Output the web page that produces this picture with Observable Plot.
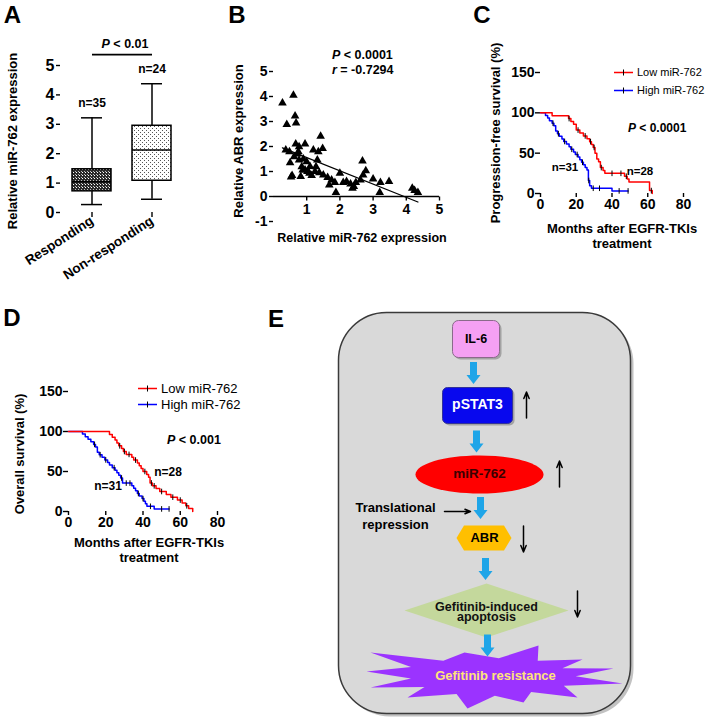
<!DOCTYPE html>
<html>
<head>
<meta charset="utf-8">
<script src="https://cdn.jsdelivr.net/npm/d3@7"></script>
<script src="https://cdn.jsdelivr.net/npm/@observablehq/plot@0.6"></script>
<style>
  body { margin: 0; background: #fff; }
  #root { position: relative; width: 709px; height: 722px; overflow: hidden; background: #fff;
          font-family: "Liberation Sans", Arial, Helvetica, sans-serif; color: #000; }
</style>
</head>
<body>
<svg width="0" height="0" style="position:absolute">
  <defs>
    <pattern id="patDark" patternUnits="userSpaceOnUse" width="3" height="3">
      <rect width="3" height="3" fill="#2a2a2a"/>
      <rect x="1" y="1" width="1" height="1" fill="#ffffff"/>
      <rect x="0" y="0" width="1" height="1" fill="#bbbbbb"/>
    </pattern>
    <pattern id="patLight" patternUnits="userSpaceOnUse" width="4" height="4">
      <rect width="4" height="4" fill="#ffffff"/>
      <rect x="0" y="0" width="1" height="1" fill="#555"/>
      <rect x="2" y="2" width="1" height="1" fill="#555"/>
    </pattern>
  </defs>
</svg>
<div id="root"></div>
<script>
// ---------------- DATA ----------------
// Panel A: box plot summaries
const groups = ["Responding", "Non-responding"];
const boxMin = [0.27, 0.45];
const boxQ1 = [0.72, 1.08];
const boxMedian = [1.05, 2.13];
const boxQ3 = [1.47, 2.95];
const boxMax = [3.22, 4.38];
const groupN = [35, 24];
const yTicksA = [0, 1, 2, 3, 4, 5];

// Panel B: scatter (miR-762 vs ABR)
const mirValues = [0.27,0.6,0.4,0.65,0.68,0.37,0.48,0.5,0.56,0.53,0.67,0.77,0.75,0.77,0.85,0.88,0.95,1.0,0.95,1.02,
  1.15,1.2,1.35,1.42,1.48,1.32,1.28,1.25,1.5,1.63,1.68,1.75,1.85,1.88,2.0,2.2,2.32,2.42,2.48,2.62,
  2.68,2.78,2.7,3.0,3.22,3.2,3.48,4.18,4.25,4.35,0.62,0.82,1.08,2.1,2.38,0.9,1.1,0.72,1.38];
const abrValues = [3.74,4.05,2.88,3.22,2.94,1.86,1.79,1.35,0.84,0.78,2.1,1.99,1.79,1.46,1.19,1.06,2.1,1.39,1.06,1.0,
  0.84,1.86,1.79,2.41,1.92,1.46,1.19,1.0,0.86,0.76,0.46,0.66,0.56,0.16,0.93,0.6,0.5,0.4,0.56,0.66,
  1.42,1.03,0.86,0.7,0.56,0.16,0.6,0.33,0.24,0.16,1.59,0.8,0.93,0.56,0.33,1.5,1.2,1.7,0.95];
const yTicksB = [-1, 0, 1, 2, 3, 4, 5];
const xTicksB = [1, 2, 3, 4, 5];

// Panel C: progression-free survival (Kaplan-Meier steps)
const pfsLowT = [0, 6.5, 15.7, 17, 18.5, 20, 22, 24, 26, 27.5, 28.5, 29.5, 30.5, 31.5, 32.5, 33.5, 35, 36, 47, 48.5, 49.5, 61, 62.5];
const pfsLowS = [100, 96.4, 92.9, 89.3, 85.7, 78.6, 75, 71.4, 67.9, 64.3, 60.7, 57.1, 50, 42.9, 39.3, 32.1, 28.6, 25, 21.4, 17.9, 14.3, 3.6, 0];
const pfsHighT = [0, 2.8, 4, 5, 6.5, 7.5, 8.5, 9.5, 10.5, 12, 13, 14.5, 16, 17, 18.5, 19.5, 21, 22, 23, 24, 25, 26, 26.8, 27.5, 28.5, 40, 49];
const pfsHighS = [100, 96.8, 93.5, 90.3, 87.1, 83.9, 77.4, 74.2, 71, 67.7, 64.5, 61.3, 58.1, 54.8, 51.6, 48.4, 45.2, 41.9, 38.7, 35.5, 32.3, 29, 16.1, 9.7, 6.5, 3.2, 3.2];
const pfsLowCensor = [16, 21, 25, 28, 30, 34, 40, 45, 48, 62];
const pfsHighCensor = [7, 10, 13.5, 17.5, 20.5, 23.5, 27, 29.5, 33, 44, 49];

// Panel D: overall survival
const osLowT = [0, 22, 23.5, 25, 26, 27, 28.5, 29.5, 31, 34, 35, 37, 38, 39, 40, 42, 43, 43.8, 45, 47, 49, 52.5, 55, 58.5, 61, 63, 64.5, 66.7];
const osLowS = [100, 96.4, 92.9, 89.3, 85.7, 82.1, 78.6, 75, 71.4, 67.9, 64.3, 60.7, 57.1, 53.6, 50, 46.4, 42.9, 35.7, 32.1, 28.6, 25, 21.4, 17.9, 14.3, 10.7, 7.1, 3.6, 0];
const osHighT = [0, 7.5, 9, 10.5, 12, 13.5, 14.5, 15.5, 16.5, 18, 19.5, 21, 22, 23.5, 25, 26, 27, 28, 29, 34, 35, 36, 37, 38, 39.5, 40.5, 41.3, 42.1, 46, 54];
const osHighS = [100, 96.8, 93.5, 90.3, 87.1, 83.9, 80.6, 74.2, 71, 67.7, 64.5, 61.3, 58.1, 54.8, 51.6, 48.4, 45.2, 41.9, 35.5, 32.3, 29, 25.8, 22.6, 19.4, 16.1, 12.9, 9.7, 6.5, 3.2, 3.2];
const osLowCensor = [27.5, 30, 32.5, 36, 41, 44.5, 46, 50, 56, 60, 63.5];
const osHighCensor = [14, 17, 20, 24.5, 28.5, 31, 33, 37.5, 40, 44, 50, 54];
const survTicksY = [0, 50, 100, 150];
const monthTicks = [0, 20, 40, 60, 80];
const seriesNames = ["Low miR-762", "High miR-762"];

// Panel E: pathway diagram
const flowNodes = ["IL-6", "pSTAT3", "miR-762", "ABR", "Gefitinib-induced\napoptosis", "Gefitinib resistance"];
const flowChange = ["", "up", "up", "down", "down", ""];
const flowNote = "Translational\nrepression";

// ---------------- LAYOUT / STYLE ----------------
const FONT = '"Liberation Sans", Arial, Helvetica, sans-serif';
const baseStyle = {fontFamily: FONT, fontWeight: "bold", fontSize: "13px", color: "#000", background: "none", overflow: "visible"};
const BOX_FILL = {"Responding": "url(#patDark)", "Non-responding": "url(#patLight)"};
const RED = "#ff0000", BLUE = "#0000ff";
const fmt = d => String(d);

const root = document.getElementById("root");
function put(el, left, top, w, h) {
  const d = document.createElement("div");
  d.style.cssText = `position:absolute;left:${left}px;top:${top}px;width:${w}px;height:${h}px;`;
  d.appendChild(el);
  root.appendChild(d);
}
function label(html, x, y, {size = 12, weight = "bold", align = "center", rotate = false, color = "#000"} = {}) {
  const d = document.createElement("div");
  d.innerHTML = html;
  let tr = align === "center" ? "translate(-50%,-50%)" : align === "start" ? "translate(0,-50%)" : "translate(-100%,-50%)";
  if (rotate) tr += " rotate(-90deg)";
  d.style.cssText = `position:absolute;left:${x}px;top:${y}px;transform:${tr};font-size:${size}px;font-weight:${weight};color:${color};white-space:nowrap;line-height:1;font-family:${FONT};`;
  root.appendChild(d);
}
function legendItem(x, y, color, text, size) {
  const d = document.createElement("div");
  d.style.cssText = `position:absolute;left:${x}px;top:${y}px;transform:translate(0,-50%);display:flex;align-items:center;font-family:${FONT};font-size:${size}px;white-space:nowrap;line-height:1;`;
  d.innerHTML = `<svg width="19" height="8" style="margin-right:4px"><line x1="0" y1="4" x2="19" y2="4" stroke="${color}" stroke-width="1.6"/><line x1="9.5" y1="1" x2="9.5" y2="7" stroke="#000" stroke-width="1"/></svg><span>${text}</span>`;
  root.appendChild(d);
}

// custom symbols
const tickDown = {draw(c) { c.moveTo(0, 0); c.lineTo(0, 4); }};
const censorTick = {draw(c) { c.moveTo(0, -2.8); c.lineTo(0, 2.8); }};
function roundRectSym(w, h, r) {
  return {draw(c) {
    const x0 = -w / 2, y0 = -h / 2, x1 = w / 2, y1 = h / 2;
    c.moveTo(x0 + r, y0); c.lineTo(x1 - r, y0); c.arcTo(x1, y0, x1, y0 + r, r);
    c.lineTo(x1, y1 - r); c.arcTo(x1, y1, x1 - r, y1, r);
    c.lineTo(x0 + r, y1); c.arcTo(x0, y1, x0, y1 - r, r);
    c.lineTo(x0, y0 + r); c.arcTo(x0, y0, x0 + r, y0, r); c.closePath();
  }};
}
function ellipseSym(rx, ry) {
  const k = 0.5523;
  return {draw(c) {
    c.moveTo(rx, 0);
    c.bezierCurveTo(rx, ry * k, rx * k, ry, 0, ry);
    c.bezierCurveTo(-rx * k, ry, -rx, ry * k, -rx, 0);
    c.bezierCurveTo(-rx, -ry * k, -rx * k, -ry, 0, -ry);
    c.bezierCurveTo(rx * k, -ry, rx, -ry * k, rx, 0);
    c.closePath();
  }};
}
function polySym(pts) {
  return {draw(c) { c.moveTo(pts[0][0], pts[0][1]); for (let i = 1; i < pts.length; i++) c.lineTo(pts[i][0], pts[i][1]); c.closePath(); }};
}
function starSym(spikes, inner) {
  const s = spikes.slice().sort((a, b) => Math.atan2(a[1], a[0]) - Math.atan2(b[1], b[0]));
  const pts = [];
  for (let i = 0; i < s.length; i++) {
    const a = s[i], b = s[(i + 1) % s.length];
    pts.push(a);
    pts.push([(a[0] + b[0]) / 2 * inner, (a[1] + b[1]) / 2 * inner]);
  }
  return polySym(pts);
}
const blockArrow = polySym([[-3.5, -11], [3.5, -11], [3.5, 2], [7, 2], [0, 11], [-7, 2], [-3.5, 2]]);

// ---------------- PANEL A ----------------
const boxRows = groups.map((g, i) => ({group: g, min: boxMin[i], q1: boxQ1[i], median: boxMedian[i], q3: boxQ3[i], max: boxMax[i], n: groupN[i]}));
const plotA = Plot.plot({
  width: 230, height: 280, marginLeft: 60, marginRight: 48, marginTop: 65, marginBottom: 68,
  style: {...baseStyle, fontSize: "15px"},
  x: {type: "band", domain: groups, paddingInner: 0.35, paddingOuter: 0.19, axis: null},
  y: {domain: [0, 5], axis: null},
  color: {type: "identity"},
  marks: [
    Plot.axisY({ticks: yTicksA, tickFormat: fmt, tickSize: 4, tickPadding: 2, line: true, label: null, fontSize: 16, strokeWidth: 1.4}),
    Plot.axisX({tickRotate: -33, tickSize: 5, tickPadding: 2, line: true, label: null, fontSize: 13.5, strokeWidth: 1.4}),
    Plot.ruleX(boxRows, {x: "group", y1: "min", y2: "q1", strokeWidth: 1.5}),
    Plot.ruleX(boxRows, {x: "group", y1: "q3", y2: "max", strokeWidth: 1.5}),
    Plot.tickY(boxRows, {x: "group", y: "min", insetLeft: 9, insetRight: 9, strokeWidth: 1.5}),
    Plot.tickY(boxRows, {x: "group", y: "max", insetLeft: 9, insetRight: 9, strokeWidth: 1.5}),
    Plot.barY(boxRows, {x: "group", y1: "q1", y2: "q3", fill: d => BOX_FILL[d.group], stroke: "#000", strokeWidth: 1.5}),
    Plot.tickY(boxRows, {x: "group", y: "median", strokeWidth: 1.5}),
    Plot.text(boxRows, {x: "group", y: "max", text: d => `n=${d.n}`, dy: -15, fontSize: 12}),
    Plot.link([groups], {x1: d => d[0], x2: d => d[1], y1: 5.37, y2: 5.37, strokeWidth: 1.6})
  ]
});
put(plotA, 0, 0, 230, 280);
label("A", 12.5, 15, {size: 24});
label("<i>P</i> &lt; 0.01", 125, 44, {size: 12.5});
label("Relative miR-762 expression", 12, 141, {size: 13, rotate: true});

// ---------------- PANEL B ----------------
const scatterRows = mirValues.map((x, i) => ({x, y: abrValues[i]}));
const plotB = Plot.plot({
  width: 240, height: 250, marginLeft: 43, marginRight: 31, marginTop: 71, marginBottom: 29,
  style: baseStyle,
  x: {domain: [0, 5], axis: null},
  y: {domain: [-1, 5], axis: null},
  marks: [
    Plot.axisY({ticks: yTicksB, tickFormat: fmt, tickSize: 4, tickPadding: 2, line: true, label: null, fontSize: 14, strokeWidth: 1.4}),
    Plot.ruleY([0], {x1: 0, x2: 5, strokeWidth: 1.4}),
    Plot.dot(xTicksB, {x: d => d, y: 0, r: 1, symbol: tickDown, stroke: "#000", fill: "none", strokeWidth: 1.4}),
    Plot.text(xTicksB, {x: d => d, y: 0, text: d => String(d), dy: 13, fontSize: 14}),
    Plot.linearRegressionY(scatterRows, {x: "x", y: "y", ci: 0, stroke: "#000", strokeWidth: 1.3}),
    Plot.dot(scatterRows, {x: "x", y: "y", symbol: "triangle", r: 3.2, fill: "#000", stroke: "none"})
  ]
});
put(plotB, 230, 0, 240, 250);
label("B", 237, 15, {size: 24});
label("<i>P</i> &lt; 0.0001", 332, 55, {size: 12.5, align: "start"});
label("<i>r</i> = -0.7294", 332, 70, {size: 12.5, align: "start"});
label("Relative ABR expression", 238, 141, {size: 13, rotate: true});
label("Relative miR-762 expression", 362, 238, {size: 12.5});

// ---------------- KM helpers ----------------
function kmRows(T, S) { return T.map((t, i) => ({t, s: S[i]})); }
function survAt(T, S, t) { let s = S[0]; for (let i = 0; i < T.length; i++) if (T[i] <= t) s = S[i]; return s; }
function censorRows(C, T, S) { return C.map(t => ({t, s: survAt(T, S, t)})); }
function kmPlot(low, high, lowC, highC, w, h, m) {
  return Plot.plot({
    width: w, height: h, marginLeft: m[0], marginRight: m[1], marginTop: m[2], marginBottom: m[3],
    style: baseStyle,
    x: {domain: [0, 80], axis: null},
    y: {domain: [0, 150], axis: null},
    marks: [
      Plot.axisY({ticks: survTicksY, tickFormat: fmt, tickSize: 5, tickPadding: 1, line: true, label: null, fontSize: 14, strokeWidth: 1.4}),
      Plot.axisX({ticks: monthTicks, tickFormat: fmt, tickSize: 4, tickPadding: 2, line: true, label: null, fontSize: 14, strokeWidth: 1.4}),
      Plot.line(high, {x: "t", y: "s", curve: "step-after", stroke: BLUE, strokeWidth: 1.5}),
      Plot.line(low, {x: "t", y: "s", curve: "step-after", stroke: RED, strokeWidth: 1.5}),
      Plot.dot(highC, {x: "t", y: "s", r: 1, symbol: censorTick, stroke: "#000", fill: "none", strokeWidth: 1}),
      Plot.dot(lowC, {x: "t", y: "s", r: 1, symbol: censorTick, stroke: "#000", fill: "none", strokeWidth: 1})
    ]
  });
}

// ---------------- PANEL C ----------------
const plotC = kmPlot(kmRows(pfsLowT, pfsLowS), kmRows(pfsHighT, pfsHighS),
  censorRows(pfsLowCensor, pfsLowT, pfsLowS), censorRows(pfsHighCensor, pfsHighT, pfsHighS),
  239, 250, [70, 26, 72, 57]);
put(plotC, 470, 0, 239, 250);
label("C", 482, 15, {size: 24});
label("Progression-free survival (%)", 495, 133, {size: 13, rotate: true});
label("Months after EGFR-TKIs", 622, 228, {size: 13});
label("treatment", 622, 243, {size: 13});
label("<i>P</i> &lt; 0.0001", 628, 128, {size: 12, align: "start"});
label("n=31", 565, 168, {size: 11.5});
label("n=28", 640, 172, {size: 11.5});
legendItem(614, 72, RED, seriesNames[0], 11);
legendItem(614, 90, BLUE, seriesNames[1], 11);

// ---------------- PANEL D ----------------
const plotD = kmPlot(kmRows(osLowT, osLowS), kmRows(osHighT, osHighS),
  censorRows(osLowCensor, osLowT, osLowS), censorRows(osHighCensor, osHighT, osHighS),
  240, 260, [68, 23, 91, 49]);
put(plotD, 0, 300, 240, 260);
label("D", 12, 318, {size: 24});
label("Overall survival (%)", 19, 454, {size: 13, rotate: true});
label("Months after EGFR-TKIs", 149, 542, {size: 13});
label("treatment", 149, 557, {size: 13});
label("<i>P</i> &lt; 0.001", 167, 440, {size: 12.5, align: "start"});
label("n=28", 168, 472, {size: 12});
label("n=31", 108, 486, {size: 12});
legendItem(138, 388, RED, seriesNames[0], 13);
legendItem(138, 404, BLUE, seriesNames[1], 13);

// ---------------- PANEL E ----------------
const E = {
  bg: {cx: 224, cy: 212.5, w: 292, h: 401, r: 48},
  nodeX: [215.5, 217, 219, 223.5, 226, 233],
  nodeY: [38.5, 105, 174, 237.5, 310, 376],
  labelY: [39, 105, 174, 238, 312, 376],
  labelX: [215.5, 217, 219, 224, 226, 235],
  shapes: [
    roundRectSym(47, 37, 6),
    roundRectSym(70, 36, 5),
    ellipseSym(64, 19),
    polySym([[-27.5, 0], [-20, -12.5], [20, -12.5], [27.5, 0], [20, 12.5], [-20, 12.5]]),
    polySym([[-82, 0], [0, -27], [82, 0], [0, 27]]),
    starSym([[-127, -5], [-123, -24], [-29, -24], [45, -31], [89, -17], [120, -8], [129, 7], [84, 21], [30, 26], [-26, 32], [-86, 21], [-123, 11]], 0.66)
  ],
  fills: ["#f5a0f3", "#0808ee", "#ff0000", "#ffbf00", "#c4d89c", "#9b33ff"],
  strokes: ["#8a6a8a", "#333399", "none", "none", "none", "none"],
  textColors: ["#000", "#fff", "#3a0000", "#000", "#111", "#ffe37a"],
  fontSizes: [12.5, 14, 13.5, 13, 12.5, 13],
  arrowX: [213, 216, 220, 225, 227],
  arrowY: [72.5, 141, 207.5, 268.5, 345],
  changeX: [0, 266, 299, 263, 317, 0],
  changeY: [0, 104.5, 173.5, 238.5, 303.5, 0],
  noteX: 135, noteY: 214.5,
  noteArrow: {x1: 184, x2: 210, y: 211}
};
const nodeRows = flowNodes.map((name, i) => ({name, i, change: flowChange[i]}));
const arrowRows = flowNodes.slice(1).map((name, i) => ({from: flowNodes[i], to: name, i}));
const changeRows = nodeRows.filter(d => d.change);

const eMarks = [
  Plot.dot([E.bg], {x: d => d.cx, y: d => d.cy, r: 1, symbol: roundRectSym(E.bg.w, E.bg.h, E.bg.r), fill: "#9a9a9a", fillOpacity: 0.6, stroke: "none", dx: 3, dy: 3}),
  Plot.dot([E.bg], {x: d => d.cx, y: d => d.cy, r: 1, symbol: roundRectSym(E.bg.w, E.bg.h, E.bg.r), fill: "#d9d9d9", stroke: "#3a3a3a", strokeWidth: 1.5})
];
nodeRows.forEach((d, i) => {
  if (i < 2) eMarks.push(Plot.dot([d], {x: () => E.nodeX[i], y: () => E.nodeY[i], r: 1, symbol: E.shapes[i], fill: "#8c8c8c", fillOpacity: 0.7, stroke: "none", dx: 2, dy: 2}));
  eMarks.push(Plot.dot([d], {x: () => E.nodeX[i], y: () => E.nodeY[i], r: 1, symbol: E.shapes[i], fill: E.fills[i], stroke: E.strokes[i], strokeWidth: 1}));
});
eMarks.push(Plot.dot(arrowRows, {x: d => E.arrowX[d.i], y: d => E.arrowY[d.i], r: 1, symbol: blockArrow, fill: "#1ea5e8", stroke: "none"}));
eMarks.push(Plot.arrow(changeRows, {
  x1: d => E.changeX[d.i], x2: d => E.changeX[d.i],
  y1: d => E.changeY[d.i] + (d.change === "up" ? 13 : -13),
  y2: d => E.changeY[d.i] + (d.change === "up" ? -13 : 13),
  stroke: "#000", strokeWidth: 1.5, headLength: 7, headAngle: 45
}));
eMarks.push(Plot.arrow([E.noteArrow], {x1: "x1", x2: "x2", y1: "y", y2: "y", stroke: "#000", strokeWidth: 1.5, headLength: 6, headAngle: 45}));
nodeRows.forEach((d, i) => {
  eMarks.push(Plot.text([d], {x: () => E.labelX[i], y: () => E.labelY[i], text: "name", fill: E.textColors[i], fontSize: E.fontSizes[i], fontWeight: "bold", lineHeight: 0.82}));
});
eMarks.push(Plot.text([flowNote], {x: () => E.noteX, y: () => E.noteY, text: d => d, fontSize: 13, fontWeight: "bold", lineHeight: 1.3}));

const plotE = Plot.plot({
  width: 449, height: 422, margin: 0,
  style: baseStyle,
  x: {domain: [0, 449], range: [0, 449], axis: null},
  y: {domain: [0, 422], range: [0, 422], axis: null},
  marks: eMarks
});
put(plotE, 260, 300, 449, 422);
label("E", 276, 318.5, {size: 24});
</script>
</body>
</html>
